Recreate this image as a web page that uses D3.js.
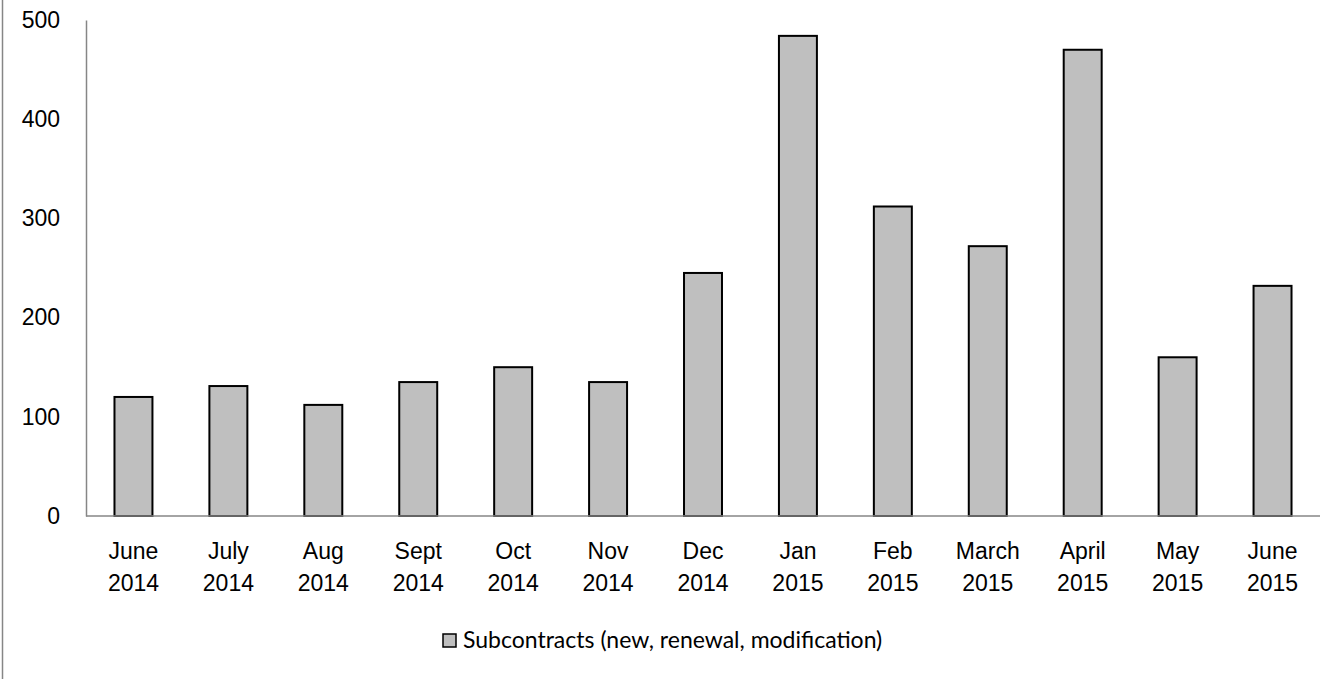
<!DOCTYPE html>
<html>
<head>
<meta charset="utf-8">
<style>
  body { margin: 0; background: #fff; }
  svg { display: block; font-family: Lato, "Open Sans", sans-serif; }
  .axis path, .axis line { stroke: #868686; }
  .axis text { fill: #000; font-size: 23px; }
  .bar { fill: #bfbfbf; stroke: #000; stroke-width: 2; }
</style>
</head>
<body>
<svg width="1320" height="679"></svg>
<script src="https://d3js.org/d3.v7.min.js"></script>
<script>
// months on the x axis, two lines each
var months = ["June", "July", "Aug", "Sept", "Oct", "Nov", "Dec", "Jan", "Feb", "March", "April", "May", "June"];
var years  = ["2014", "2014", "2014", "2014", "2014", "2014", "2014", "2015", "2015", "2015", "2015", "2015", "2015"];
var subcontracts = [120, 131, 112, 135, 150, 135, 245, 484, 312, 272, 470, 160, 232];
var yTicks = [0, 100, 200, 300, 400, 500];
var seriesName = "Subcontracts (new, renewal, modification)";

var svg = d3.select("svg"),
    margin = {top: 20, right: 0, bottom: 163, left: 86},
    width = +svg.attr("width") - margin.left - margin.right,
    height = +svg.attr("height") - margin.top - margin.bottom;

// outer border (only left edge visible)
svg.append("line")
    .attr("x1", 2.5).attr("x2", 2.5)
    .attr("y1", 0).attr("y2", 679)
    .attr("stroke", "#868686").attr("stroke-width", 1.5);

var data = months.map(function(m, i) {
  return {key: i, month: m, year: years[i], value: subcontracts[i]};
});

var x = d3.scaleBand().domain(data.map(function(d) { return d.key; }))
    .range([0, width]).paddingInner(0.6).paddingOuter(0.3),
    y = d3.scaleLinear().domain([0, 500]).range([height, 0]);

var g = svg.append("g")
    .attr("transform", "translate(" + margin.left + "," + margin.top + ")");

g.selectAll(".bar")
  .data(data)
  .enter().append("rect")
    .attr("class", "bar")
    .attr("x", function(d) { return x(d.key); })
    .attr("y", function(d) { return y(d.value); })
    .attr("width", x.bandwidth())
    .attr("height", function(d) { return height - y(d.value); });

var yAxis = g.append("g")
    .attr("class", "axis")
    .call(d3.axisLeft(y).tickValues(yTicks).tickSize(0).tickPadding(26));
yAxis.select(".domain").attr("stroke-width", 1.5);

var xAxis = g.append("g")
    .attr("class", "axis")
    .attr("transform", "translate(0," + height + ")")
    .call(d3.axisBottom(x).tickSize(0).tickFormat(""));
xAxis.select(".domain").attr("stroke-width", 1.5).attr("d", "M0,0H" + width);

xAxis.selectAll(".tick text")
    .each(function(k) {
      var t = d3.select(this).text(null).attr("y", 0).attr("dy", null);
      t.append("tspan").attr("x", 0).attr("y", 43).text(data[k].month);
      t.append("tspan").attr("x", 0).attr("y", 75).text(data[k].year);
    });

// legend
var legend = svg.append("g").attr("transform", "translate(443,634)");
legend.append("rect")
    .attr("width", 13).attr("height", 13)
    .attr("fill", "#bfbfbf").attr("stroke", "#000").attr("stroke-width", 1.5);
legend.append("text")
    .attr("x", 20).attr("y", 14)
    .attr("font-size", 23)
    .text(seriesName);
</script>
</body>
</html>
